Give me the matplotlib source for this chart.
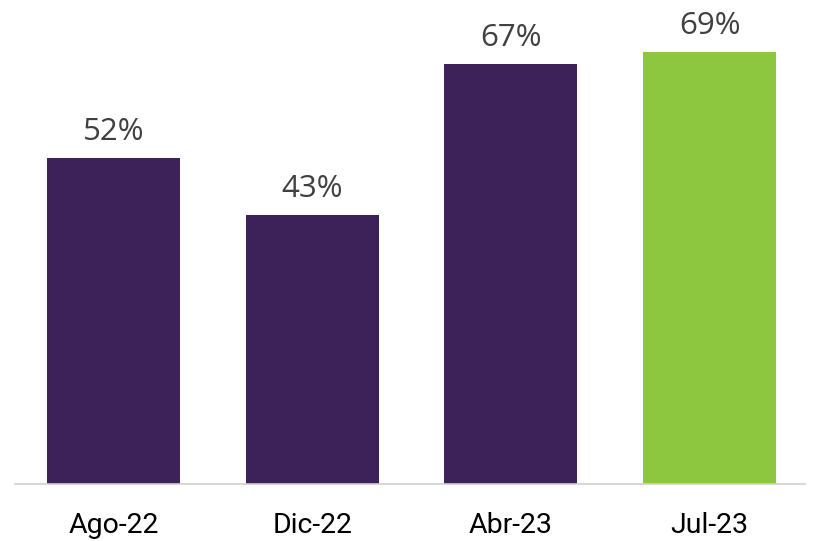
import matplotlib.pyplot as plt

periods = ["Ago-22", "Dic-22", "Abr-23", "Jul-23"]
values = [52, 43, 67, 69]
colors = ["#3d2159", "#3d2159", "#3d2159", "#8dc63f"]

fig = plt.figure(figsize=(8.13, 5.41), dpi=100)
ax = fig.add_axes([15 / 813, 57 / 541, 790 / 813, 484 / 541])

x = range(len(periods))
bars = ax.bar(x, values, width=0.67, color=colors)

for xi, v in zip(x, values):
    ax.annotate(f"{v}%", (xi, v), xytext=(0, 8), textcoords="offset points",
                ha="center", va="bottom", fontsize=22.5, color="#404040",
                family="Open Sans")

ax.set_xlim(-0.496, 3.48)
ax.set_ylim(0, 77.3)
ax.set_xticks(list(x))
ax.set_xticklabels(periods, fontsize=20.5, family="Roboto", color="black")
ax.tick_params(axis="x", length=0, pad=20)
ax.set_yticks([])
for side in ["top", "right", "left"]:
    ax.spines[side].set_visible(False)
ax.spines["bottom"].set_color("#d0d0d0")
ax.spines["bottom"].set_linewidth(1.2)

fig.savefig("out.png", dpi=100)
